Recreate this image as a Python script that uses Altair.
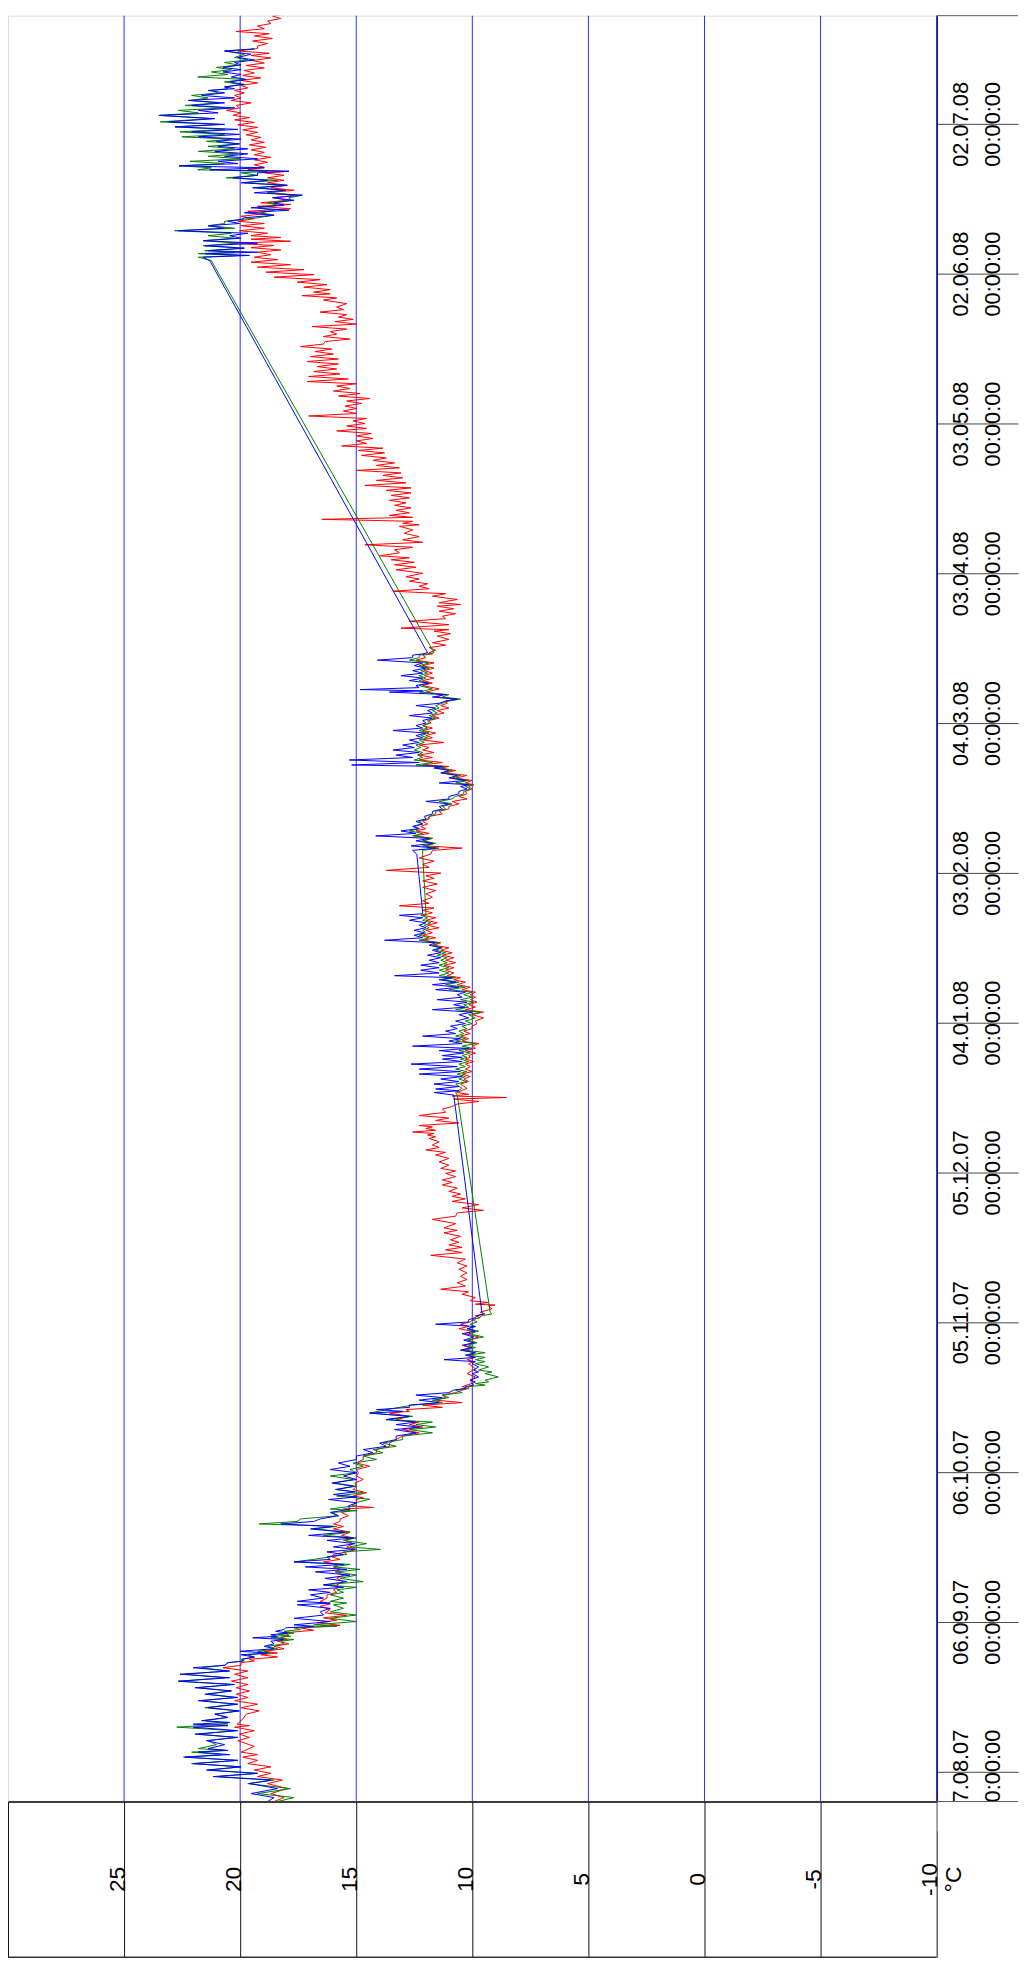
import altair as alt
import pandas as pd

# ---------------- layout constants ----------------
W, H = 936, 1800
BASE = pd.Timestamp("2007-08-07")  # day offsets below are counted from 07.08.07

# ---------------- axis values ----------------
temp_ticks = [30, 25, 20, 15, 10, 5, 0, -5, -10]
grid_temps = [25, 20, 15, 10, 5, 0, -5, -10]
date_ticks = [(2007, 8, 7), (2007, 9, 6), (2007, 10, 6), (2007, 11, 5), (2007, 12, 5),
              (2008, 1, 4), (2008, 2, 3), (2008, 3, 4), (2008, 4, 3), (2008, 5, 3),
              (2008, 6, 2), (2008, 7, 2)]

# ---------------- red series (day offset, daily high, daily low) ----------------
red_day = [-6.0, -4.4, -2.4, -1.0, 0.3, 1.6, 2.9, 3.9, 6.2, 7.5,
           8.9, 9.5, 11.5, 12.8, 14.2, 15.5, 16.8, 18.1, 19.5, 20.8,
           21.8, 22.5, 23.4, 24.1, 25.1, 26.1, 26.8, 27.8, 28.8, 29.8,
           30.8, 31.8, 33.1, 34.1, 35.4, 36.4, 37.4, 38.7, 40.0, 41.0,
           42.0, 43.0, 44.0, 45.0, 46.3, 47.3, 48.6, 49.6, 50.6, 51.9,
           52.6, 53.2, 54.5, 55.2, 56.5, 57.8, 59.2, 60.5, 61.8, 63.2,
           64.5, 65.8, 67.2, 68.5, 69.5, 70.5, 71.8, 72.5, 73.4, 74.4,
           75.4, 76.4, 77.1, 78.4, 79.7, 81.7, 82.5, 83.4, 84.4, 85.4,
           86.4, 87.7, 88.7, 89.6, 90.5, 91.3, 92.0, 93.3, 93.6, 94.3,
           95.6, 96.6, 97.9, 99.2, 100.6, 101.9, 103.4, 104.5, 105.5, 106.5,
           107.9, 108.9, 110.6, 111.9, 112.9, 114.2, 115.2, 116.2, 117.5, 118.5,
           119.8, 120.8, 122.1, 123.5, 124.5, 125.5, 126.8, 127.5, 128.1, 128.8,
           129.4, 130.4, 131.4, 132.7, 133.7, 134.7, 135.3, 136.0, 137.7, 138.7,
           139.7, 140.7, 141.7, 142.7, 143.4, 144.4, 145.3, 146.3, 147.3, 148.3,
           149.3, 150.3, 151.6, 152.6, 153.6, 154.6, 155.6, 156.6, 157.6, 158.6,
           159.4, 160.5, 161.5, 162.5, 163.5, 164.5, 165.5, 166.5, 167.5, 168.5,
           169.5, 170.5, 171.5, 172.5, 173.4, 174.4, 175.8, 177.1, 178.4, 179.4,
           180.5, 181.7, 183.0, 184.5, 185.4, 186.4, 187.4, 188.4, 189.3, 190.3,
           191.3, 192.3, 193.3, 194.3, 195.3, 196.3, 197.3, 198.0, 199.0, 200.0,
           201.0, 201.6, 202.6, 203.6, 204.6, 205.6, 206.6, 207.5, 208.5, 209.5,
           210.5, 211.5, 212.5, 213.5, 214.4, 215.2, 216.2, 217.5, 218.5, 219.5,
           220.5, 221.5, 222.6, 223.6, 224.1, 225.1, 226.1, 227.4, 228.4, 229.0,
           230.4, 231.4, 232.4, 233.4, 234.1, 235.4, 236.4, 237.4, 238.4, 239.3,
           240.7, 241.7, 242.7, 243.5, 244.7, 245.7, 246.7, 248.0, 249.4, 250.0,
           250.8, 251.6, 252.6, 253.6, 254.6, 255.6, 256.6, 257.6, 258.6, 259.6,
           260.6, 261.6, 262.6, 263.6, 264.6, 265.5, 266.5, 267.5, 268.5, 269.5,
           270.5, 271.5, 272.5, 273.5, 274.5, 275.5, 276.5, 277.5, 278.4, 279.4,
           280.4, 281.4, 282.4, 283.4, 284.4, 285.4, 286.4, 287.4, 288.4, 289.4,
           290.4, 291.3, 292.3, 293.3, 294.7, 295.6, 296.3, 297.3, 298.3, 299.3,
           300.3, 301.3, 302.3, 303.3, 304.3, 305.2, 306.1, 306.9, 307.6, 308.6,
           309.6, 310.5, 311.5, 312.5, 313.5, 314.2, 315.2, 316.2, 317.2, 318.2,
           319.2, 320.2, 320.8, 321.8, 322.8, 323.8, 324.8, 325.8, 326.8, 327.8,
           328.8, 329.8, 330.8, 331.7, 332.7, 333.7, 334.7, 335.7, 336.7, 337.7,
           338.7, 339.7, 340.7, 341.7, 342.7, 343.7, 344.6, 345.6, 346.6, 347.6,
           348.5, 349.6, 350.6, 351.6, 352.5]
red_hi = [18.54, 18.68, 18.82, 19.25, 19.39, 19.67, 19.89, 19.96, 20.10, 20.03,
          20.24, 20.13, 19.74, 19.96, 20.24, 20.17, 20.17, 20.38, 20.24, 20.74,
          19.96, 19.60, 19.11, 18.96, 18.54, 18.39, 18.25, 18.11, 17.40, 16.69,
          16.41, 16.34, 16.55, 16.55, 16.26, 15.98, 15.84, 15.84, 15.91, 15.98,
          16.41, 16.05, 15.41, 15.41, 15.48, 15.63, 15.98, 15.98, 15.70, 15.63,
          15.55, 15.20, 14.99, 15.13, 15.13, 15.06, 14.99, 14.99, 14.99, 14.70,
          14.13, 13.57, 13.00, 13.00, 12.71, 13.28, 13.57, 12.86, 12.14, 11.58,
          11.29, 10.44, 10.44, 10.09, 10.23, 10.16, 10.23, 10.16, 10.44, 10.44,
          10.16, 10.30, 10.58, 10.51, 10.01, 9.87, 9.66, 9.30, 9.87, 10.09,
          10.44, 11.36, 10.65, 10.51, 10.58, 10.65, 11.79, 11.15, 11.01, 10.94,
          11.22, 11.22, 11.72, 10.65, 10.44, 10.87, 10.87, 11.01, 11.29, 11.29,
          11.15, 11.36, 11.43, 11.58, 12.00, 11.72, 11.86, 11.93, 12.57, 12.00,
          12.29, 11.58, 12.29, 11.29, 10.65, 10.80, 10.87, 10.65, 10.51, 10.37,
          10.44, 10.30, 10.30, 10.30, 10.16, 10.30, 10.01, 10.44, 10.51, 10.37,
          10.01, 9.87, 10.01, 10.30, 10.16, 10.09, 10.09, 10.44, 10.65, 10.80,
          11.08, 11.15, 11.22, 11.15, 11.29, 11.36, 11.65, 12.14, 12.14, 12.00,
          11.93, 12.00, 12.14, 12.14, 13.14, 12.14, 12.00, 12.14, 12.14, 12.00,
          13.71, 12.14, 12.29, 11.72, 12.00, 12.14, 12.50, 12.43, 12.22, 12.14,
          11.86, 11.43, 11.01, 10.87, 10.58, 10.30, 10.16, 10.30, 10.72, 11.15,
          11.36, 12.14, 12.29, 12.29, 12.14, 12.29, 12.14, 12.00, 12.14, 12.14,
          11.86, 11.72, 11.51, 11.36, 11.15, 11.51, 12.00, 12.14, 12.14, 12.07,
          12.07, 12.14, 12.43, 12.14, 11.86, 11.86, 11.72, 11.51, 11.65, 13.07,
          12.71, 11.29, 11.43, 11.51, 11.43, 11.72, 13.42, 12.29, 12.71, 12.86,
          13.28, 13.35, 13.49, 13.99, 13.35, 14.63, 13.00, 12.93, 13.14, 13.00,
          16.48, 13.57, 13.28, 13.35, 13.57, 13.49, 13.71, 14.63, 14.13, 13.85,
          14.99, 14.13, 14.28, 14.77, 14.91, 15.63, 14.99, 14.99, 15.84, 15.41,
          15.13, 17.05, 15.55, 15.48, 15.41, 15.77, 15.98, 15.84, 17.12, 17.05,
          16.83, 16.69, 17.12, 16.97, 16.76, 17.40, 16.34, 16.41, 16.12, 16.90,
          15.91, 15.77, 16.55, 15.84, 16.41, 17.33, 16.83, 17.26, 17.54, 18.54,
          18.89, 19.25, 19.53, 19.39, 19.25, 19.53, 20.45, 19.53, 19.53, 20.03,
          19.96, 20.10, 19.96, 19.67, 19.25, 19.11, 18.54, 18.82, 18.68, 18.82,
          18.82, 18.96, 19.67, 19.39, 19.39, 19.39, 19.53, 19.60, 19.53, 19.74,
          19.89, 20.10, 20.24, 20.31, 20.60, 20.17, 20.38, 20.24, 20.24, 19.96,
          19.96, 19.89, 19.82, 19.74, 19.46, 19.53, 20.10, 19.25, 19.46, 19.39,
          20.17, 19.25, 18.82, 18.61, 18.61]
red_lo = [18.11, 17.97, 18.18, 18.68, 18.68, 19.25, 19.25, 19.39, 19.60, 19.39,
          19.60, 19.89, 19.18, 19.25, 19.67, 19.60, 19.67, 19.67, 19.67, 19.96,
          19.39, 18.39, 18.39, 18.11, 17.90, 17.97, 17.90, 16.83, 15.70, 15.84,
          15.41, 16.12, 16.12, 16.26, 15.84, 15.77, 15.55, 15.55, 15.70, 15.77,
          15.70, 15.98, 14.99, 15.13, 15.13, 15.27, 15.55, 15.70, 15.34, 15.27,
          14.25, 14.99, 14.70, 14.56, 14.99, 14.70, 14.91, 14.42, 14.70, 14.13,
          13.57, 13.28, 12.29, 12.14, 12.29, 12.71, 12.71, 11.29, 10.44, 11.15,
          10.72, 10.16, 10.01, 9.87, 9.87, 9.94, 9.87, 9.87, 10.09, 9.87,
          9.73, 10.01, 10.16, 10.09, 9.66, 9.45, 9.16, 9.02, 9.30, 9.87,
          10.16, 10.30, 10.23, 10.23, 10.23, 10.30, 10.44, 10.44, 10.58, 10.51,
          10.65, 10.72, 10.72, 9.52, 9.73, 10.30, 10.51, 10.65, 10.87, 10.72,
          10.72, 11.01, 11.01, 11.15, 11.43, 11.43, 11.58, 11.65, 11.58, 11.72,
          10.58, 11.01, 11.15, 10.87, 9.73, 8.52, 10.16, 10.23, 10.16, 10.09,
          10.01, 10.09, 9.94, 10.09, 9.87, 9.87, 9.73, 10.16, 10.09, 10.01,
          9.80, 9.52, 9.52, 9.87, 9.80, 9.87, 9.87, 10.09, 10.30, 10.51,
          10.80, 10.80, 10.72, 10.80, 10.87, 11.01, 11.36, 11.58, 11.72, 11.43,
          11.51, 11.58, 11.72, 11.65, 11.86, 11.72, 11.58, 11.51, 11.65, 11.36,
          11.86, 11.65, 11.79, 10.44, 11.65, 11.72, 11.86, 12.00, 11.93, 11.86,
          11.29, 11.01, 10.58, 10.23, 10.23, 10.01, 9.94, 10.01, 10.23, 10.72,
          11.01, 11.29, 11.72, 11.65, 11.86, 11.22, 11.72, 11.58, 11.72, 11.79,
          11.43, 11.22, 11.01, 11.08, 10.72, 11.29, 11.43, 11.72, 11.65, 11.72,
          11.65, 11.65, 12.00, 11.72, 11.58, 11.15, 11.01, 10.94, 11.01, 11.01,
          11.15, 10.72, 10.80, 10.51, 10.65, 11.15, 11.86, 11.93, 12.29, 12.14,
          12.43, 12.50, 12.71, 13.14, 12.57, 12.14, 12.29, 12.57, 12.29, 12.57,
          12.57, 12.71, 12.64, 12.86, 12.71, 12.64, 12.64, 12.86, 13.00, 13.07,
          13.14, 13.35, 13.71, 13.78, 13.85, 14.56, 14.28, 14.35, 14.56, 14.63,
          14.56, 14.99, 14.99, 14.77, 14.42, 14.84, 15.27, 14.99, 15.34, 15.70,
          15.84, 15.77, 15.77, 15.98, 16.05, 16.41, 15.27, 15.84, 15.41, 14.99,
          15.13, 15.41, 15.55, 15.41, 15.84, 16.12, 16.12, 16.26, 16.55, 16.83,
          17.26, 17.83, 18.39, 18.68, 18.25, 18.54, 17.83, 18.25, 18.82, 18.96,
          18.96, 19.39, 18.96, 17.83, 17.83, 17.97, 17.68, 17.68, 17.97, 18.11,
          18.11, 17.90, 18.96, 18.82, 18.68, 18.96, 18.89, 18.96, 19.11, 19.25,
          19.25, 19.39, 19.60, 19.96, 20.03, 19.53, 19.96, 19.82, 19.67, 19.25,
          19.11, 19.39, 18.96, 18.96, 18.68, 18.75, 19.25, 18.82, 18.61, 18.75,
          18.96, 18.68, 18.25, 17.90, 18.18]

# ---------------- blue series (gaps bridged by single points where hi == lo) ----------------
blue_day = [-6.0, -4.4, -2.4, -1.0, 0.3, 1.6, 2.9, 3.9, 4.6, 6.2,
            7.5, 8.9, 9.5, 10.2, 11.5, 12.8, 14.2, 15.5, 16.8, 18.1,
            19.5, 20.8, 21.8, 22.5, 23.4, 24.1, 25.1, 26.1, 26.8, 27.4,
            28.1, 28.8, 29.4, 30.7, 32.0, 33.4, 34.1, 35.4, 36.4, 37.4,
            38.7, 40.0, 41.0, 42.0, 43.0, 44.0, 45.0, 46.3, 47.3, 48.6,
            49.6, 50.6, 51.9, 53.2, 54.5, 55.5, 56.5, 57.8, 59.2, 60.5,
            61.8, 63.2, 64.5, 65.8, 67.2, 68.5, 69.5, 70.5, 71.8, 72.5,
            73.4, 74.4, 75.4, 76.4, 77.1, 77.7, 78.4, 79.7, 80.4, 81.7,
            82.5, 83.4, 84.4, 85.4, 86.4, 87.7, 88.7, 89.6, 90.5, 91.3,
            92.0, 135.5, 136.0, 136.7, 137.7, 138.7, 139.7, 140.7, 141.7, 142.7,
            143.4, 144.4, 145.3, 146.3, 147.3, 148.3, 149.3, 150.3, 151.6, 152.6,
            153.6, 154.6, 155.6, 156.6, 157.6, 158.6, 159.4, 160.5, 161.5, 162.5,
            163.5, 164.5, 165.5, 166.5, 167.5, 168.5, 169.5, 170.5, 171.5, 172.1,
            183.7, 184.5, 185.4, 186.4, 187.4, 188.4, 189.3, 190.3, 191.3, 192.3,
            193.3, 194.3, 195.3, 196.3, 197.3, 198.0, 199.0, 200.0, 201.0, 201.6,
            202.6, 203.6, 204.6, 205.6, 206.6, 207.5, 208.5, 209.5, 210.5, 211.5,
            212.5, 213.5, 214.4, 215.2, 216.2, 216.7, 217.5, 218.5, 219.5, 220.5,
            221.5, 222.6, 223.6, 224.1, 302.6, 303.3, 304.0, 304.6, 305.6, 306.6,
            307.6, 308.6, 309.6, 310.5, 311.2, 312.2, 313.2, 314.2, 315.2, 316.2,
            317.2, 318.2, 319.2, 320.2, 320.8, 321.6, 322.5, 323.5, 324.5, 325.5,
            326.5, 327.4, 328.4, 329.4, 330.4, 331.7, 332.7, 333.7, 334.7, 335.7,
            336.7, 337.4, 338.4, 339.4, 340.4, 341.3, 342.3, 343.3, 344.6]
blue_hi = [18.82, 19.53, 19.60, 21.16, 21.45, 22.02, 22.37, 21.80, 21.38, 21.45,
           21.95, 22.02, 22.02, 21.66, 21.09, 21.38, 21.80, 21.52, 21.95, 22.66,
           22.59, 22.02, 20.53, 19.89, 19.96, 20.00, 18.96, 18.68, 19.46, 18.68,
           18.47, 18.04, 17.68, 17.68, 16.55, 17.54, 17.54, 16.97, 17.05, 16.41,
           16.34, 16.76, 17.19, 17.68, 16.26, 16.26, 15.98, 16.26, 17.05, 16.97,
           18.25, 16.55, 16.12, 15.34, 16.19, 15.98, 15.84, 16.05, 15.55, 16.12,
           15.77, 14.99, 14.70, 13.99, 13.28, 13.35, 13.28, 13.71, 14.42, 14.13,
           12.71, 12.29, 12.43, 10.80, 10.30, 10.01, 10.09, 10.01, 9.94, 10.01,
           11.22, 10.30, 10.51, 10.37, 10.37, 10.44, 10.23, 11.58, 10.16, 9.80,
           9.59, 10.80, 11.65, 11.58, 11.65, 11.36, 12.29, 12.29, 12.64, 11.29,
           11.29, 11.43, 12.57, 11.01, 12.14, 11.15, 10.94, 10.72, 10.58, 11.72,
           10.80, 11.51, 10.65, 11.58, 11.72, 11.43, 13.35, 12.22, 12.22, 11.86,
           11.93, 11.72, 11.86, 13.78, 12.50, 12.50, 12.29, 12.71, 13.14, 12.14,
           12.39, 12.57, 12.64, 12.43, 14.16, 13.07, 12.57, 12.43, 12.07, 11.72,
           11.43, 12.00, 11.01, 10.58, 10.51, 11.43, 11.01, 11.36, 11.65, 15.20,
           15.30, 13.28, 13.42, 13.00, 12.71, 12.43, 13.42, 12.43, 12.14, 12.71,
           11.93, 12.43, 11.15, 11.72, 13.57, 14.84, 12.43, 12.71, 13.07, 12.57,
           12.50, 14.09, 12.57, 11.93, 21.31, 21.59, 21.52, 21.38, 21.52, 21.59,
           20.45, 22.66, 21.38, 20.53, 19.82, 19.82, 19.53, 18.54, 18.61, 19.39,
           19.46, 19.96, 20.31, 19.25, 21.31, 22.63, 20.95, 20.67, 21.09, 20.95,
           21.02, 21.80, 22.09, 22.80, 23.08, 23.44, 21.80, 22.09, 22.23, 21.66,
           21.38, 20.67, 20.45, 20.38, 20.74, 20.74, 20.24, 20.10, 20.67]
blue_lo = [18.54, 18.39, 18.68, 19.25, 19.96, 20.10, 20.45, 20.53, 20.67, 20.10,
           20.10, 20.53, 20.45, 20.53, 20.03, 20.10, 20.10, 20.38, 20.24, 20.45,
           20.45, 20.67, 19.89, 19.39, 18.82, 18.54, 18.54, 18.11, 18.39, 17.97,
           18.11, 16.83, 16.12, 16.41, 16.12, 16.12, 16.41, 16.12, 15.55, 15.41,
           15.27, 15.41, 15.55, 16.12, 15.55, 15.06, 15.06, 15.13, 15.48, 15.98,
           16.83, 15.77, 15.27, 14.99, 14.99, 15.06, 15.13, 14.99, 14.99, 15.27,
           14.99, 14.28, 13.71, 13.28, 12.43, 12.29, 12.43, 12.71, 13.00, 12.71,
           11.43, 11.29, 11.01, 10.30, 9.94, 9.87, 9.73, 9.73, 9.73, 9.87,
           9.87, 9.87, 10.01, 9.94, 9.94, 9.87, 9.87, 10.16, 9.87, 9.52,
           9.59, 10.80, 10.58, 10.58, 10.58, 10.44, 10.51, 10.65, 10.44, 10.44,
           10.37, 10.16, 10.44, 10.51, 10.72, 10.65, 10.30, 10.16, 10.01, 10.30,
           10.23, 10.44, 10.30, 10.58, 10.72, 10.87, 11.43, 11.43, 11.43, 11.36,
           11.36, 11.36, 11.58, 12.14, 12.07, 12.00, 12.00, 12.14, 12.14, 12.14,
           12.39, 11.58, 11.72, 11.86, 12.43, 12.29, 12.14, 12.00, 11.72, 11.29,
           11.01, 11.01, 10.58, 10.23, 10.16, 10.30, 10.65, 11.01, 11.29, 12.29,
           12.57, 12.29, 12.50, 12.29, 12.14, 12.00, 12.14, 12.00, 11.72, 11.72,
           11.58, 11.43, 10.65, 11.15, 12.14, 12.29, 11.86, 12.14, 12.14, 12.00,
           12.14, 12.57, 12.14, 11.93, 21.31, 19.60, 19.25, 19.82, 19.25, 19.96,
           19.67, 20.67, 20.03, 19.96, 18.54, 17.90, 18.11, 17.68, 17.33, 18.04,
           17.97, 18.82, 19.25, 17.90, 18.96, 20.10, 19.25, 19.67, 19.67, 20.03,
           19.96, 20.03, 20.10, 20.67, 21.09, 20.95, 20.24, 20.67, 20.24, 20.67,
           20.24, 19.82, 19.74, 19.96, 19.96, 19.96, 19.39, 19.53, 19.39]

# ---------------- green series ----------------
green_day = [-6.0, -4.4, -2.4, -1.0, 0.3, 1.6, 2.9, 3.9, 4.6, 6.2,
             7.5, 8.9, 10.2, 11.5, 12.8, 14.2, 15.5, 16.8, 18.1, 19.5,
             20.8, 21.8, 22.5, 23.4, 24.1, 25.1, 26.1, 26.8, 27.4, 28.1,
             28.8, 29.4, 30.7, 32.0, 33.4, 34.1, 35.4, 36.4, 37.4, 38.7,
             40.0, 41.0, 42.0, 43.0, 44.0, 45.0, 46.3, 47.3, 48.6, 49.6,
             50.6, 51.9, 52.6, 53.9, 55.2, 56.5, 57.8, 59.2, 60.5, 61.8,
             63.2, 64.5, 65.8, 67.2, 68.5, 69.5, 70.5, 71.8, 73.4, 74.4,
             75.4, 76.4, 77.1, 77.7, 78.4, 79.7, 80.4, 81.7, 82.5, 83.4,
             84.4, 85.4, 86.4, 87.7, 88.7, 89.6, 90.5, 91.3, 92.0, 135.5,
             136.0, 137.7, 138.7, 139.7, 140.7, 141.7, 142.7, 143.4, 144.4, 145.3,
             146.3, 147.3, 148.3, 149.3, 150.3, 151.6, 152.6, 153.6, 154.6, 155.6,
             156.6, 157.6, 158.6, 159.4, 160.5, 161.5, 162.5, 163.5, 164.5, 165.5,
             166.5, 167.5, 168.5, 169.5, 170.5, 171.5, 172.1, 183.7, 184.5, 185.4,
             186.4, 187.4, 188.4, 189.3, 190.3, 191.3, 192.3, 193.3, 194.3, 195.3,
             196.3, 197.3, 198.0, 199.0, 200.0, 201.0, 201.6, 202.6, 203.6, 204.6,
             205.6, 206.6, 207.5, 208.5, 209.5, 210.5, 211.5, 212.5, 213.5, 214.4,
             215.2, 216.2, 217.5, 218.5, 219.5, 220.5, 221.5, 222.6, 223.6, 224.1,
             302.6, 303.3, 304.0, 304.6, 305.6, 306.6, 307.6, 308.6, 309.6, 310.5,
             311.2, 312.2, 313.2, 314.2, 315.2, 316.2, 317.2, 318.2, 319.2, 320.2,
             320.8, 321.6, 322.5, 323.5, 324.5, 325.5, 326.5, 327.4, 328.4, 329.4,
             330.4, 331.7, 332.7, 333.7, 334.7, 335.7, 336.7, 337.4, 338.4, 339.4,
             340.4, 341.3, 342.3, 343.3, 344.6]
green_hi = [18.39, 19.25, 19.67, 20.95, 21.38, 22.09, 22.44, 22.09, 21.80, 21.38,
            21.80, 22.73, 21.52, 21.09, 21.52, 21.66, 21.38, 21.80, 22.66, 22.37,
            21.66, 20.53, 19.96, 19.67, 19.25, 18.82, 18.25, 18.68, 18.39, 18.11,
            17.68, 16.83, 16.12, 16.12, 15.98, 16.12, 16.12, 15.84, 16.41, 15.70,
            15.84, 15.98, 17.68, 16.12, 15.55, 15.27, 15.55, 16.41, 16.83, 19.18,
            17.40, 16.05, 16.12, 14.99, 15.84, 15.91, 15.98, 16.12, 15.27, 15.13,
            14.70, 14.28, 13.85, 13.00, 12.71, 12.43, 13.71, 14.42, 12.57, 11.72,
            11.29, 10.72, 10.16, 9.87, 9.45, 9.45, 9.73, 9.87, 9.87, 10.16,
            10.30, 10.16, 10.23, 10.16, 10.16, 10.09, 10.01, 9.59, 9.23, 10.65,
            10.72, 10.72, 10.58, 10.65, 10.72, 10.58, 10.51, 10.44, 10.58, 10.44,
            10.72, 10.72, 10.58, 10.44, 10.30, 10.16, 10.72, 10.37, 10.51, 10.37,
            11.01, 11.15, 11.29, 11.43, 11.43, 11.43, 11.36, 11.51, 11.58, 11.72,
            12.29, 12.29, 12.14, 12.07, 12.14, 12.22, 12.00, 12.14, 12.14, 12.14,
            12.14, 12.57, 12.71, 12.50, 12.29, 11.86, 11.58, 11.29, 11.43, 10.72,
            10.37, 10.30, 10.72, 10.87, 11.29, 11.58, 12.43, 12.50, 12.36, 12.50,
            12.43, 12.29, 12.22, 12.29, 12.14, 11.93, 11.86, 11.72, 11.58, 11.01,
            11.29, 12.29, 12.29, 12.29, 12.29, 12.22, 12.29, 12.71, 12.29, 11.65,
            21.24, 21.80, 21.80, 21.52, 21.59, 21.59, 21.38, 22.83, 21.38, 20.67,
            19.25, 19.11, 19.25, 18.82, 17.90, 18.82, 19.25, 19.82, 20.60, 19.96,
            21.83, 22.63, 22.16, 21.38, 21.80, 21.38, 21.45, 22.51, 22.59, 22.80,
            23.44, 23.51, 22.66, 22.37, 22.16, 22.09, 21.24, 20.67, 20.67, 21.83,
            21.24, 21.02, 20.67, 20.24, 20.67]
green_lo = [17.68, 17.83, 18.54, 19.25, 19.96, 20.10, 20.81, 20.67, 21.02, 20.24,
            20.24, 20.53, 20.53, 20.10, 20.24, 20.24, 20.38, 20.38, 20.67, 20.53,
            20.67, 19.82, 19.39, 18.68, 18.39, 18.11, 17.68, 17.83, 17.68, 17.40,
            15.84, 14.99, 15.01, 15.55, 15.41, 15.55, 15.55, 14.99, 14.70, 14.99,
            14.84, 15.27, 16.83, 15.41, 13.96, 14.56, 14.99, 15.27, 15.84, 17.54,
            15.77, 14.99, 14.99, 14.42, 14.70, 14.99, 15.13, 14.99, 14.70, 14.13,
            13.85, 13.28, 13.00, 11.72, 11.58, 11.72, 12.57, 13.57, 11.29, 11.01,
            10.44, 10.16, 9.45, 9.30, 8.88, 9.16, 9.30, 9.45, 9.45, 9.45,
            9.87, 9.80, 9.52, 9.73, 9.87, 9.80, 9.73, 9.16, 9.23, 10.65,
            10.44, 10.23, 10.30, 10.23, 10.30, 10.16, 10.23, 10.09, 10.01, 9.87,
            10.30, 10.37, 10.23, 10.01, 9.87, 9.66, 10.16, 9.94, 10.01, 10.01,
            10.30, 10.58, 10.72, 11.01, 11.01, 11.08, 11.08, 11.15, 11.29, 11.43,
            11.86, 12.00, 11.86, 11.79, 11.93, 12.00, 12.00, 12.14, 11.43, 11.58,
            11.72, 12.14, 12.29, 12.14, 11.93, 11.58, 11.15, 10.87, 10.87, 10.37,
            10.09, 10.01, 10.16, 10.51, 10.87, 11.15, 11.72, 12.14, 12.14, 12.22,
            12.07, 11.93, 11.86, 11.93, 11.86, 11.58, 11.51, 11.43, 11.29, 10.51,
            11.01, 11.72, 11.93, 12.00, 11.93, 11.86, 11.86, 12.29, 11.93, 11.65,
            21.24, 19.96, 20.24, 19.82, 20.10, 20.24, 20.38, 20.24, 20.67, 19.96,
            18.54, 18.54, 18.39, 17.83, 17.33, 18.11, 18.11, 18.39, 19.25, 18.82,
            21.24, 20.67, 19.96, 20.10, 20.24, 20.03, 20.38, 20.67, 20.67, 20.95,
            21.24, 21.80, 20.67, 20.95, 21.38, 20.95, 20.53, 19.96, 19.82, 20.53,
            20.38, 20.10, 19.67, 19.82, 19.39]


def to_frame(days, hi, lo):
    n = min(len(days), len(hi), len(lo))
    ts, vs = [], []
    for i in range(n):
        ts.append(days[i])
        vs.append(hi[i])
        if lo[i] != hi[i]:
            nxt = days[i + 1] if i + 1 < n else days[i] + 0.8
            ts.append((days[i] + nxt) / 2.0)
            vs.append(lo[i])
    stamps = [(BASE + pd.Timedelta(days=d)).strftime("%Y-%m-%dT%H:%M:%S") for d in ts]
    return pd.DataFrame({"t": stamps, "temp": vs, "idx": list(range(len(vs)))})


red_df = to_frame(red_day, red_hi, red_lo)
green_df = to_frame(green_day, green_hi, green_lo)
blue_df = to_frame(blue_day, blue_hi, blue_lo)
grid_df = pd.DataFrame({"g": grid_temps})

FONT = "Liberation Sans"

x_scale = alt.Scale(domain=[-10, 30], reverse=True, nice=False, zero=False)
x_axis = alt.Axis(
    orient="bottom", values=temp_ticks, grid=False, zindex=0,
    labelExpr="datum.value == 30 ? '' : '' + datum.value",
    ticks=True, tickSize=157, tickColor="#111111", tickWidth=1,
    domain=True, domainColor="#000000", domainWidth=1.5,
    labelAngle=270, labelAlign="center", labelBaseline="alphabetic",
    labelPadding=-79, labelFontSize=23, labelFont=FONT, labelColor="#000000",
    labelFlush=False, labelOverlap=False, labelBound=False,
    title="°C", titleAngle=270, titleAlign="center", titleBaseline="top",
    titleX=W + 6, titleY=78, titleFontSize=23, titleFont=FONT,
    titleFontWeight="normal", titleColor="#000000",
)

y_scale = alt.Scale(
    domain=[alt.DateTime(year=2007, month=8, date=1),
            alt.DateTime(year=2008, month=7, date=23, hours=16)],
    nice=False,
)
y_axis = alt.Axis(
    orient="right", values=[alt.DateTime(year=a, month=b, date=c) for a, b, c in date_ticks],
    grid=False, zindex=0,
    labelExpr="[timeFormat(datum.value, '%d.%m.%y'), timeFormat(datum.value, '%H:%M:%S')]",
    ticks=True, tickSize=82, tickColor="#444444", tickWidth=1,
    domain=True, domainColor="#000033", domainWidth=1.5,
    labelAngle=270, labelAlign="center", labelBaseline="top",
    labelPadding=-68, labelFontSize=22, labelFont=FONT, labelColor="#000000",
    labelLineHeight=32, labelFlush=False, labelOverlap=False, labelBound=False,
    title=None,
)

grid = alt.Chart(grid_df).mark_rule(color="#2a2aff", strokeWidth=1).encode(
    x=alt.X("g:Q", scale=x_scale, axis=x_axis)
)


def series(df, colour):
    return alt.Chart(df).mark_line(color=colour, strokeWidth=1, clip=True).encode(
        x=alt.X("temp:Q", scale=x_scale, axis=x_axis),
        y=alt.Y("t:T", scale=y_scale, axis=y_axis),
        order=alt.Order("idx:Q"),
    )


red_line = series(red_df, "#ff0000")
green_line = series(green_df, "#008000")
blue_line = series(blue_df, "#0000ff")

one = pd.DataFrame({"k": [0]})
mask = alt.Chart(one).mark_rect(color="white").encode(
    x=alt.value(W + 1), x2=alt.value(W + 82), y=alt.value(H + 1), y2=alt.value(H + 30)
)
ext_top = alt.Chart(one).mark_rule(color="#555555", strokeWidth=1).encode(
    x=alt.value(W), x2=alt.value(W + 82), y=alt.value(0)
)
ext_bottom = alt.Chart(one).mark_rule(color="#555555", strokeWidth=1).encode(
    x=alt.value(W), x2=alt.value(W + 82), y=alt.value(H)
)
frame_bottom = alt.Chart(one).mark_rule(color="#333333", strokeWidth=1.5).encode(
    x=alt.value(0), x2=alt.value(W), y=alt.value(H + 157)
)

chart = alt.layer(
    grid, red_line, green_line, blue_line, mask, ext_top, ext_bottom, frame_bottom
).properties(
    width=W, height=H,
    autosize=alt.AutoSizeParams(type="none"),
    padding={"left": 0, "top": 0, "right": 83, "bottom": 159},
).configure_view(
    stroke="#000000", strokeWidth=1
).configure(background="white")

chart.save("out.html", embed_options={"renderer": "svg", "actions": False})
